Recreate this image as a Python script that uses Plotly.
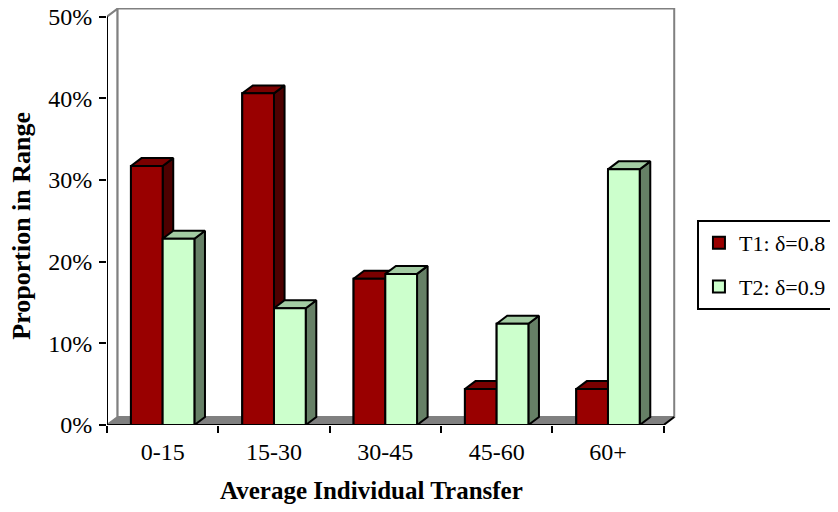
import plotly.graph_objects as go

# ---- data ----
categories = ["0-15", "15-30", "30-45", "45-60", "60+"]
t1_values = [31.7, 40.6, 17.9, 4.4, 4.4]
t2_values = [22.8, 14.3, 18.5, 12.4, 31.3]
series_names = ["T1: δ=0.8", "T2: δ=0.9"]
y_tick_values = [0, 10, 20, 30, 40, 50]
y_tick_labels = ["0%", "10%", "20%", "30%", "40%", "50%"]
x_title = "Average Individual Transfer"
y_title = "Proportion in Range"

# ---- style ----
FONT = "Liberation Serif, Times New Roman, serif"
BAR_W = 0.285          # width of one bar (category units)
DX = 0.095             # depth offset, x (category units)
DY = 0.976             # depth offset, y (percent units)
X_MIN, X_MAX = -0.5, 4.62
Y_MAX = 51.05
face_colors = [
    {"front": "#990000", "top": "#7a0000", "side": "#4d0000"},
    {"front": "#ccffcc", "top": "#a3cca3", "side": "#668066"},
]
offsets = [-BAR_W, 0.0]
series_values = [t1_values, t2_values]
idx = list(range(len(categories)))

fig = go.Figure()

# legend-carrying bars (front faces, covered by the 3D faces below)
for s, (name, vals) in enumerate(zip(series_names, series_values)):
    fig.add_trace(go.Bar(
        x=idx, y=vals, name=name, width=BAR_W, offset=offsets[s],
        marker=dict(color=face_colors[s]["front"], line=dict(color="black", width=2)),
        legendgroup=f"g{s}", hoverinfo="skip",
    ))

def face(xs, ys, color):
    fig.add_trace(go.Scatter(
        x=xs + [xs[0]], y=ys + [ys[0]], mode="lines", fill="toself",
        fillcolor=color, line=dict(color="black", width=2),
        showlegend=False, hoverinfo="skip",
    ))

for i in idx:
    for s, vals in enumerate(series_values):
        v = vals[i]
        x0 = i + offsets[s]
        x1 = x0 + BAR_W
        c = face_colors[s]
        face([x1, x1 + DX, x1 + DX, x1], [0, DY, v + DY, v], c["side"])
        face([x0, x1, x1 + DX, x0 + DX], [v, v, v + DY, v + DY], c["top"])
        face([x0, x1, x1, x0], [0, 0, v, v], c["front"])

x_lo, x_hi = -0.5, len(categories) - 0.5
shapes = [
    dict(type="path", xref="x", yref="y", layer="below",
         path=f"M{x_lo},0 L{x_lo},50 L{x_lo+DX},{50+DY} L{x_lo+DX},{DY} Z",
         fillcolor="white", line=dict(color="#808080", width=2)),
    dict(type="rect", xref="x", yref="y", layer="below",
         x0=x_lo + DX, x1=x_hi + DX, y0=DY, y1=50 + DY,
         fillcolor="white", line=dict(color="#808080", width=2)),
    dict(type="path", xref="x", yref="y", layer="below",
         path=f"M{x_lo},0 L{x_hi},0 L{x_hi+DX},{DY} L{x_lo+DX},{DY} Z",
         fillcolor="#808080", line=dict(color="#808080", width=1)),
    dict(type="line", xref="x", yref="y", x0=x_lo, x1=x_lo, y0=0, y1=50,
         line=dict(color="black", width=2)),
    dict(type="line", xref="x", yref="y", x0=x_lo, x1=x_hi, y0=0, y1=0,
         line=dict(color="black", width=2)),
    dict(type="line", xref="x", yref="y", x0=x_hi, x1=x_hi + DX, y0=0, y1=DY,
         line=dict(color="black", width=2)),
]

fig.update_layout(
    width=838, height=512,
    margin=dict(l=99, r=169, t=0, b=95, autoexpand=False),
    paper_bgcolor="white", plot_bgcolor="white",
    barmode="overlay",
    font=dict(family=FONT, color="black", size=24),
    shapes=shapes,
    showlegend=True,
    legend=dict(
        x=1.035, y=0.4916, xanchor="left", yanchor="top",
        bordercolor="black", borderwidth=2, bgcolor="white",
        font=dict(family=FONT, size=22, color="black"),
        traceorder="grouped", tracegroupgap=12, itemwidth=30,
    ),
    xaxis=dict(
        range=[X_MIN, X_MAX], tickvals=idx, ticktext=categories,
        ticks="outside", ticklen=0, tickcolor="white",
        ticklabelstandoff=5,
        minor=dict(tickvals=[k - 0.5 for k in range(len(categories) + 1)],
                   ticks="outside", ticklen=7, tickwidth=2, tickcolor="black",
                   showgrid=False),
        showgrid=False, zeroline=False, showline=False,
        tickfont=dict(family=FONT, size=24, color="black"),
        fixedrange=True, automargin=False,
    ),
    yaxis=dict(
        range=[0, Y_MAX], tickvals=y_tick_values, ticktext=y_tick_labels,
        ticks="outside", ticklen=7, tickwidth=2, tickcolor="black",
        ticklabelstandoff=2, ticklabeloverflow="allow",
        showgrid=False, zeroline=False, showline=False,
        tickfont=dict(family=FONT, size=24, color="black"),
        fixedrange=True, automargin=False,
    ),
    annotations=[
        dict(text=f"<b>{x_title}</b>", xref="x", yref="paper", x=1.88, y=0,
             yshift=-65, xanchor="center", yanchor="middle", showarrow=False,
             font=dict(family=FONT, size=25, color="black")),
        dict(text=f"<b>{y_title}</b>", xref="paper", yref="y", x=0, y=24.4,
             xshift=-85, xanchor="center", yanchor="middle", textangle=-90,
             showarrow=False, font=dict(family=FONT, size=26, color="black")),
    ],
)

fig.write_html("out.html")
